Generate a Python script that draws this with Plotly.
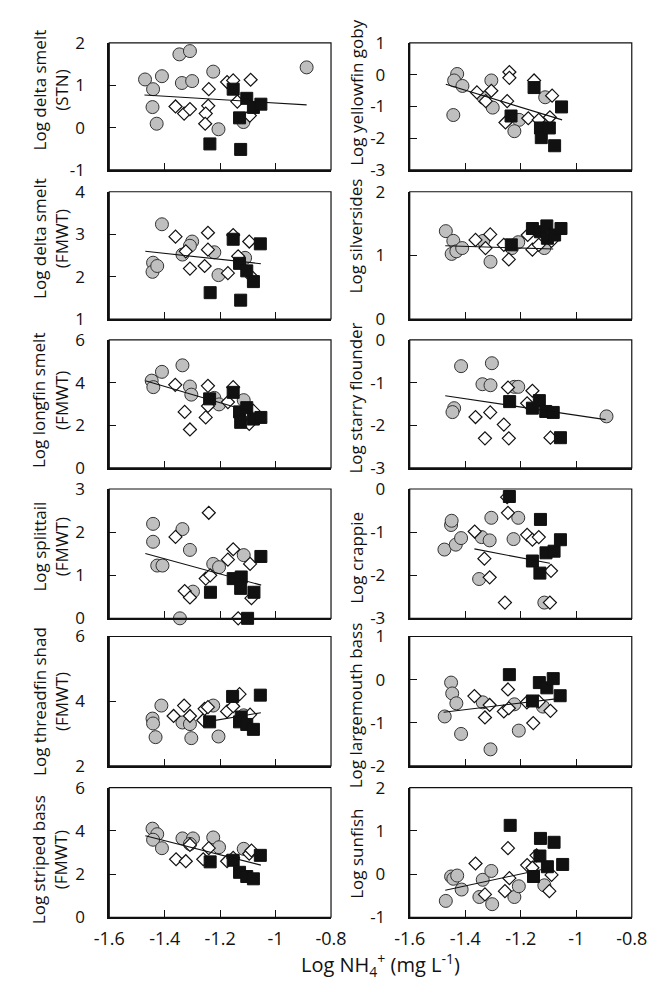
import plotly.graph_objects as go

# ---------------- data ----------------
x_range = [-1.6, -0.8]
x_tickvals = [-1.6, -1.4, -1.2, -1.0, -0.8]
x_ticktext = ["-1.6", "-1.4", "-1.2", "-1", "-0.8"]

panel_titles = [
    "Log delta smelt<br>(STN)", "Log yellowfin goby",
    "Log delta smelt<br>(FMWT)", "Log silversides",
    "Log longfin smelt<br>(FMWT)", "Log starry flounder",
    "Log splittail<br>(FMWT)", "Log crappie",
    "Log threadfin shad<br>(FMWT)", "Log largemouth bass",
    "Log striped bass<br>(FMWT)", "Log sunfish",
]
y_ranges = [[-1, 2], [-3, 1], [1, 4], [0, 2], [0, 6], [-3, 0],
            [0, 3], [-3, 0], [2, 6], [-2, 1], [0, 6], [-1, 2]]
y_tickvals = [[-1, 0, 1, 2], [-3, -2, -1, 0, 1], [1, 2, 3, 4], [0, 1, 2],
              [0, 2, 4, 6], [-3, -2, -1, 0], [0, 1, 2, 3], [-3, -2, -1, 0],
              [2, 4, 6], [-2, -1, 0, 1], [0, 2, 4, 6], [-1, 0, 1, 2]]

# Panel 1: delta smelt (STN)
p1_circ_x = [-1.471, -1.442, -1.444, -1.429, -1.410, -1.347, -1.309, -1.338, -1.301, -1.225, -1.206, -1.116, -0.888]
p1_circ_y = [1.138, 0.908, 0.485, 0.092, 1.215, 1.731, 1.808, 1.054, 1.100, 1.323, -0.038, 0.131, 1.423]
p1_diam_x = [-1.361, -1.330, -1.309, -1.241, -1.243, -1.252, -1.254, -1.175, -1.153, -1.138, -1.090, -1.093]
p1_diam_y = [0.500, 0.331, 0.438, 0.908, 0.515, 0.331, 0.092, 1.077, 1.115, 0.615, 1.131, 0.285]
p1_sq_x = [-1.237, -1.153, -1.130, -1.126, -1.104, -1.080, -1.053]
p1_sq_y = [-0.385, 0.908, 0.231, -0.515, 0.692, 0.477, 0.554]
p1_fit_x = [-1.473, -0.888]
p1_fit_y = [0.769, 0.538]

# Panel 2: yellowfin goby
p2_circ_x = [-1.429, -1.440, -1.410, -1.443, -1.306, -1.333, -1.301, -1.206, -1.223, -1.112]
p2_circ_y = [0.023, -0.181, -0.354, -1.270, -0.181, -0.730, -1.036, -1.422, -1.779, -0.710]
p2_diam_x = [-1.358, -1.326, -1.306, -1.249, -1.241, -1.241, -1.255, -1.173, -1.152, -1.135, -1.095, -1.087]
p2_diam_y = [-0.557, -0.832, -0.506, -0.832, 0.084, -0.099, -1.504, -1.372, -0.181, -1.422, -1.341, -0.659]
p2_sq_x = [-1.235, -1.152, -1.129, -1.126, -1.097, -1.078, -1.053]
p2_sq_y = [-1.300, -0.405, -1.677, -1.982, -1.677, -2.237, -1.015]
p2_fit_x = [-1.470, -1.051]
p2_fit_y = [-0.303, -1.422]

# Panel 3: delta smelt (FMWT)
p3_circ_x = [-1.410, -1.442, -1.444, -1.427, -1.336, -1.301, -1.309, -1.221, -1.206, -1.110]
p3_circ_y = [3.233, 2.327, 2.112, 2.250, 2.519, 2.826, 2.726, 2.573, 2.035, 2.442]
p3_diam_x = [-1.361, -1.324, -1.309, -1.256, -1.244, -1.244, -1.172, -1.153, -1.135, -1.095, -1.084]
p3_diam_y = [2.941, 2.596, 2.189, 2.250, 3.033, 2.634, 2.081, 2.979, 2.480, 2.826, 1.982]
p3_sq_x = [-1.236, -1.153, -1.130, -1.126, -1.104, -1.080, -1.055]
p3_sq_y = [1.621, 2.880, 2.312, 1.444, 2.135, 1.882, 2.772]
p3_fit_x = [-1.470, -1.053]
p3_fit_y = [2.596, 2.304]

# Panel 4: silversides
p4_circ_x = [-1.470, -1.443, -1.449, -1.432, -1.411, -1.335, -1.309, -1.232, -1.209, -1.115]
p4_circ_y = [1.381, 1.228, 1.023, 1.064, 1.115, 1.228, 0.900, 1.115, 1.207, 1.115]
p4_diam_x = [-1.363, -1.327, -1.310, -1.261, -1.243, -1.175, -1.158, -1.135, -1.089]
p4_diam_y = [1.243, 1.115, 1.330, 1.166, 0.936, 1.320, 1.090, 1.166, 1.228]
p4_sq_x = [-1.234, -1.158, -1.129, -1.106, -1.104, -1.078, -1.055]
p4_sq_y = [1.166, 1.422, 1.371, 1.463, 1.269, 1.320, 1.422]
p4_fit_x = [-1.472, -1.083]
p4_fit_y = [1.151, 1.100]

# Panel 5: longfin smelt (FMWT)
p5_circ_x = [-1.447, -1.441, -1.410, -1.336, -1.309, -1.304, -1.221, -1.204, -1.115]
p5_circ_y = [4.092, 3.786, 4.504, 4.809, 3.817, 3.435, 3.282, 2.977, 3.176]
p5_diam_x = [-1.362, -1.328, -1.309, -1.252, -1.244, -1.244, -1.172, -1.153, -1.095, -1.080]
p5_diam_y = [3.893, 2.626, 1.802, 2.366, 3.847, 2.901, 3.084, 3.786, 2.061, 2.672]
p5_sq_x = [-1.238, -1.153, -1.130, -1.126, -1.104, -1.080, -1.053]
p5_sq_y = [3.237, 3.542, 2.626, 2.137, 2.824, 2.290, 2.366]
p5_fit_x = [-1.470, -1.080]
p5_fit_y = [4.090, 2.600]

# Panel 6: starry flounder
p6_circ_x = [-1.415, -1.304, -1.338, -1.309, -1.440, -1.446, -1.223, -1.209, -0.891]
p6_circ_y = [-0.615, -0.546, -1.038, -1.062, -1.600, -1.692, -1.100, -1.100, -1.792]
p6_diam_x = [-1.363, -1.310, -1.329, -1.261, -1.243, -1.246, -1.177, -1.158, -1.093]
p6_diam_y = [-1.808, -1.700, -2.308, -1.985, -2.308, -1.115, -1.485, -1.192, -2.292]
p6_sq_x = [-1.240, -1.158, -1.133, -1.110, -1.083, -1.057]
p6_sq_y = [-1.446, -1.600, -1.423, -1.677, -1.700, -2.292]
p6_fit_x = [-1.472, -0.894]
p6_fit_y = [-1.308, -1.869]

# Panel 7: splittail (FMWT)
p7_circ_x = [-1.442, -1.442, -1.427, -1.408, -1.336, -1.309, -1.345, -1.298, -1.225, -1.204, -1.115]
p7_circ_y = [2.191, 1.776, 1.224, 1.224, 2.070, 1.587, 0.000, 0.619, 1.262, 1.186, 1.466]
p7_diam_x = [-1.361, -1.328, -1.309, -1.252, -1.236, -1.241, -1.172, -1.153, -1.135, -1.092, -1.087]
p7_diam_y = [1.889, 0.634, 0.483, 0.921, 0.997, 2.448, 1.360, 1.602, 0.000, 1.262, 0.468]
p7_sq_x = [-1.235, -1.153, -1.124, -1.126, -1.101, -1.078, -1.053]
p7_sq_y = [0.604, 0.921, 0.959, 0.695, 0.000, 0.604, 1.435]
p7_fit_x = [-1.470, -1.052]
p7_fit_y = [1.503, 0.770]

# Panel 8: crappie
p8_circ_x = [-1.475, -1.451, -1.449, -1.434, -1.415, -1.341, -1.312, -1.306, -1.226, -1.209, -1.350, -1.115]
p8_circ_y = [-1.405, -0.835, -0.737, -1.291, -1.139, -1.116, -1.192, -0.668, -1.162, -0.668, -2.088, -2.635]
p8_diam_x = [-1.366, -1.331, -1.312, -1.257, -1.249, -1.246, -1.177, -1.158, -1.135, -1.091, -1.095]
p8_diam_y = [-0.987, -1.617, -2.050, -2.635, -0.190, -0.554, -1.063, -1.177, -1.116, -1.898, -2.635]
p8_sq_x = [-1.241, -1.158, -1.131, -1.129, -1.109, -1.080, -1.057]
p8_sq_y = [-0.175, -1.670, -1.951, -0.706, -1.481, -1.443, -1.177]
p8_fit_x = [-1.367, -1.095]
p8_fit_y = [-1.390, -1.724]

# Panel 9: threadfin shad (FMWT)
p9_circ_x = [-1.444, -1.442, -1.433, -1.412, -1.336, -1.309, -1.304, -1.225, -1.206, -1.115]
p9_circ_y = [3.461, 3.310, 2.887, 3.864, 3.340, 3.290, 2.856, 3.864, 2.907, 3.562]
p9_diam_x = [-1.368, -1.330, -1.309, -1.261, -1.256, -1.244, -1.175, -1.153, -1.130, -1.092]
p9_diam_y = [3.542, 3.864, 3.542, 3.411, 3.763, 3.814, 3.683, 3.844, 4.217, 3.582]
p9_sq_x = [-1.238, -1.155, -1.130, -1.124, -1.104, -1.080, -1.055]
p9_sq_y = [3.360, 4.146, 3.360, 3.511, 3.280, 3.128, 4.186]
p9_fit_x = [-1.250, -1.053]
p9_fit_y = [3.360, 3.642]

# Panel 10: largemouth bass
p10_circ_x = [-1.474, -1.451, -1.447, -1.432, -1.415, -1.337, -1.309, -1.223, -1.207, -1.120]
p10_circ_y = [-0.855, -0.069, -0.321, -0.550, -1.260, -0.527, -1.618, -0.573, -1.183, -0.626]
p10_diam_x = [-1.367, -1.329, -1.312, -1.261, -1.246, -1.243, -1.178, -1.155, -1.135, -1.093]
p10_diam_y = [-0.382, -0.878, -0.588, -0.740, -0.229, -0.664, -0.527, -1.008, -0.511, -0.725]
p10_sq_x = [-1.241, -1.158, -1.133, -1.106, -1.083, -1.058]
p10_sq_y = [0.115, -0.496, -0.069, -0.191, 0.023, -0.374]
p10_fit_x = [-1.478, -1.058]
p10_fit_y = [-0.756, -0.435]

# Panel 11: striped bass (FMWT)
p11_circ_x = [-1.444, -1.427, -1.442, -1.410, -1.336, -1.298, -1.309, -1.225, -1.204, -1.115]
p11_circ_y = [4.100, 3.844, 3.588, 3.196, 3.648, 3.648, 3.392, 3.693, 3.241, 3.166]
p11_diam_x = [-1.359, -1.324, -1.309, -1.261, -1.241, -1.175, -1.153, -1.095, -1.087]
p11_diam_y = [2.683, 2.593, 3.347, 2.683, 3.196, 2.593, 2.744, 2.940, 3.090]
p11_sq_x = [-1.236, -1.153, -1.130, -1.104, -1.080, -1.055]
p11_sq_y = [2.563, 2.638, 2.080, 1.884, 1.779, 2.864]
p11_fit_x = [-1.470, -1.053]
p11_fit_y = [3.769, 2.412]

# Panel 12: sunfish
p12_circ_x = [-1.470, -1.451, -1.443, -1.429, -1.413, -1.337, -1.306, -1.349, -1.303, -1.223, -1.207, -1.115]
p12_circ_y = [-0.622, -0.057, -0.110, -0.035, -0.359, -0.133, 0.071, -0.532, -0.698, -0.532, -0.283, -0.261]
p12_diam_x = [-1.363, -1.329, -1.257, -1.246, -1.241, -1.177, -1.158, -1.143, -1.089, -1.097]
p12_diam_y = [0.244, -0.472, -0.396, 0.598, -0.095, 0.207, 0.146, 0.433, -0.020, -0.396]
p12_sq_x = [-1.238, -1.154, -1.129, -1.131, -1.104, -1.080, -1.049]
p12_sq_y = [1.126, -0.057, 0.824, 0.417, 0.169, 0.734, 0.222]
p12_fit_x = [-1.472, -1.095]
p12_fit_y = [-0.374, 0.145]

panels = [
    (p1_circ_x, p1_circ_y, p1_diam_x, p1_diam_y, p1_sq_x, p1_sq_y, p1_fit_x, p1_fit_y),
    (p2_circ_x, p2_circ_y, p2_diam_x, p2_diam_y, p2_sq_x, p2_sq_y, p2_fit_x, p2_fit_y),
    (p3_circ_x, p3_circ_y, p3_diam_x, p3_diam_y, p3_sq_x, p3_sq_y, p3_fit_x, p3_fit_y),
    (p4_circ_x, p4_circ_y, p4_diam_x, p4_diam_y, p4_sq_x, p4_sq_y, p4_fit_x, p4_fit_y),
    (p5_circ_x, p5_circ_y, p5_diam_x, p5_diam_y, p5_sq_x, p5_sq_y, p5_fit_x, p5_fit_y),
    (p6_circ_x, p6_circ_y, p6_diam_x, p6_diam_y, p6_sq_x, p6_sq_y, p6_fit_x, p6_fit_y),
    (p7_circ_x, p7_circ_y, p7_diam_x, p7_diam_y, p7_sq_x, p7_sq_y, p7_fit_x, p7_fit_y),
    (p8_circ_x, p8_circ_y, p8_diam_x, p8_diam_y, p8_sq_x, p8_sq_y, p8_fit_x, p8_fit_y),
    (p9_circ_x, p9_circ_y, p9_diam_x, p9_diam_y, p9_sq_x, p9_sq_y, p9_fit_x, p9_fit_y),
    (p10_circ_x, p10_circ_y, p10_diam_x, p10_diam_y, p10_sq_x, p10_sq_y, p10_fit_x, p10_fit_y),
    (p11_circ_x, p11_circ_y, p11_diam_x, p11_diam_y, p11_sq_x, p11_sq_y, p11_fit_x, p11_fit_y),
    (p12_circ_x, p12_circ_y, p12_diam_x, p12_diam_y, p12_sq_x, p12_sq_y, p12_fit_x, p12_fit_y),
]

# ---------------- layout geometry ----------------
W, H = 663, 993
FONT = "Open Sans"
INK = "#111111"
col_px = [(98.0, 331.0), (413.7, 647.0)]
row_px = [(31.7, 161.7), (184.0, 314.3), (335.7, 466.7),
          (488.3, 620.7), (639.3, 771.7), (794.0, 926.7)]
title_x_px = [36.0, 357.0]
title_y_px = [[80, 82], [232, 229], [397, 395], [547, 559], [706, 710], [868, 862]]

fig = go.Figure()
layout = dict(
    width=W, height=H, margin=dict(l=0, r=0, t=0, b=0),
    paper_bgcolor="white", plot_bgcolor="white", showlegend=False,
    font=dict(family=FONT, size=16, color=INK),
)
annotations = []
shapes = []

for i, (cx, cy, dx, dy, sx, sy, fx, fy) in enumerate(panels):
    r, c = divmod(i, 2)
    n = i + 1
    xa = "x" if n == 1 else f"x{n}"
    ya = "y" if n == 1 else f"y{n}"
    xkey = "xaxis" if n == 1 else f"xaxis{n}"
    ykey = "yaxis" if n == 1 else f"yaxis{n}"
    x0, x1 = col_px[c]
    t, b = row_px[r]
    bottom = (r == 5)
    layout[xkey] = dict(
        domain=[x0 / W, x1 / W], anchor=ya, range=x_range,
        tickmode="array", tickvals=x_tickvals,
        ticktext=x_ticktext if bottom else [""] * len(x_tickvals),
        showticklabels=bottom, ticks="inside", ticklen=7, tickwidth=1.3,
        tickcolor=INK, showline=True, linewidth=2, linecolor=INK,
        showgrid=False, zeroline=False, fixedrange=True,
        ticklabelstandoff=4,
        tickfont=dict(family=FONT, size=18, color=INK),
    )
    yt = y_tickvals[i]
    layout[ykey] = dict(
        domain=[1 - b / H, 1 - t / H], anchor=xa, range=y_ranges[i],
        tickmode="array", tickvals=yt, ticktext=[str(v) for v in yt],
        ticks="inside", ticklen=7, tickwidth=1.3, tickcolor=INK,
        showline=True, linewidth=2, linecolor=INK,
        showgrid=False, zeroline=False, fixedrange=True,
        ticklabelstandoff=19,
        tickfont=dict(family=FONT, size=17, color=INK),
    )
    shapes.append(dict(type="rect", xref=f"{xa} domain", yref=f"{ya} domain",
                       x0=0, x1=1, y0=0, y1=1,
                       line=dict(color=INK, width=1.2), layer="above"))
    fig.add_trace(go.Scatter(x=cx, y=cy, xaxis=xa, yaxis=ya, mode="markers",
                             cliponaxis=False,
                             marker=dict(symbol="circle", size=13, color="#bfbfbf",
                                         line=dict(color="#333333", width=1))))
    fig.add_trace(go.Scatter(x=dx, y=dy, xaxis=xa, yaxis=ya, mode="markers",
                             cliponaxis=False,
                             marker=dict(symbol="diamond", size=10, color="white",
                                         line=dict(color=INK, width=1.2))))
    fig.add_trace(go.Scatter(x=sx, y=sy, xaxis=xa, yaxis=ya, mode="markers",
                             cliponaxis=False,
                             marker=dict(symbol="square", size=12, color=INK,
                                         line=dict(color=INK, width=1))))
    fig.add_trace(go.Scatter(x=fx, y=fy, xaxis=xa, yaxis=ya, mode="lines",
                             line=dict(color=INK, width=1.1)))
    annotations.append(dict(
        text=panel_titles[i], textangle=-90, showarrow=False,
        xref="paper", yref="paper",
        x=title_x_px[c] / W, y=1 - title_y_px[r][c] / H,
        xanchor="center", yanchor="middle",
        font=dict(family=FONT, size=17, color=INK),
    ))

annotations.append(dict(
    text="Log NH<sub>4</sub><sup>+</sup> (mg L<sup>-1</sup>)", showarrow=False,
    xref="paper", yref="paper", x=383 / W, y=1 - 976 / H,
    xanchor="center", yanchor="middle",
    font=dict(family=FONT, size=20, color=INK),
))
layout["annotations"] = annotations
layout["shapes"] = shapes
fig.update_layout(**layout)
fig.write_html("out.html")
